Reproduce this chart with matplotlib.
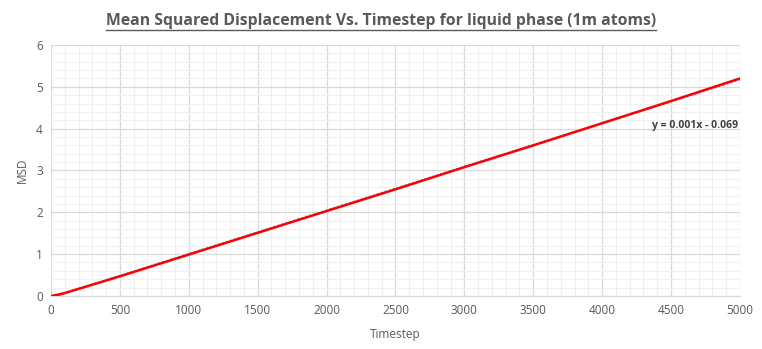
import numpy as np
import matplotlib.pyplot as plt
from matplotlib.lines import Line2D

timestep = [0, 50, 100, 250, 500, 750, 1000, 1500, 2000, 2500, 3000, 3500, 4000, 4500, 5000]
msd = [0.0, 0.03, 0.07, 0.22, 0.47, 0.73, 0.99, 1.51, 2.03, 2.55, 3.08, 3.60, 4.13, 4.66, 5.20]

plt.rcParams['font.family'] = ['Open Sans', 'DejaVu Sans']

fig = plt.figure(figsize=(7.62, 3.49), dpi=100)
ax = fig.add_axes([0.067, 0.152, 0.904, 0.719])

# trendline (dotted blue) under the data line
coef = np.polyfit(timestep, msd, 1)
tx = np.array([0, 5000])
ax.plot(tx, coef[0] * tx + coef[1], color='#5b9bd5', lw=1.5, ls=(0, (1, 1)), zorder=3)
ax.plot(timestep, msd, color='#ff0000', lw=1.8, zorder=4)

ax.set_xlim(0, 5000)
ax.set_ylim(0, 6)
ax.set_xticks(np.arange(0, 5001, 500))
ax.set_yticks(np.arange(0, 7, 1))
ax.set_xticks(np.arange(0, 5001, 100), minor=True)
ax.set_yticks(np.arange(0, 6.01, 0.2), minor=True)
ax.grid(which='major', color='#d9d9d9', lw=0.9)
ax.grid(which='minor', color='#f0f0f0', lw=0.8)
ax.set_axisbelow(True)
for s in ['top', 'right', 'left']:
    ax.spines[s].set_visible(False)
ax.spines['bottom'].set_color('#d9d9d9')
ax.tick_params(which='both', length=0, colors='#595959', labelsize=8.5, pad=6)

ax.set_xlabel('Timestep', color='#595959', fontsize=8.5, labelpad=8)
ax.set_ylabel('MSD', color='#595959', fontsize=8.5, labelpad=5)

ax.text(4990, 3.95, 'y = 0.001x - 0.069', ha='right', va='bottom',
        fontsize=7.5, color='#404040', fontweight='bold')

t = fig.text(0.5, 0.94, 'Mean Squared Displacement Vs. Timestep for liquid phase (1m atoms)',
             ha='center', va='center', fontsize=11.3, fontweight='bold', color='#595959')
fig.canvas.draw()
bb = t.get_window_extent().transformed(fig.transFigure.inverted())
fig.add_artist(Line2D([bb.x0, bb.x1], [bb.y0 - 0.002, bb.y0 - 0.002],
                      transform=fig.transFigure, color='#595959', lw=1.0))

plt.savefig('out.png', dpi=100)
